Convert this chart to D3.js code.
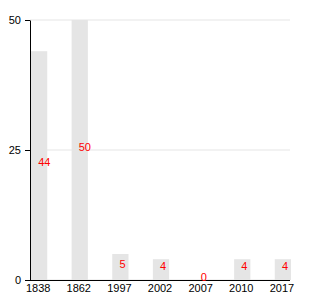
<!DOCTYPE html>
<html>
<head>
<meta charset="utf-8">
<style>
  body { margin: 0; background: #fff; }
  svg { display: block; font-family: "Liberation Sans", Arial, sans-serif; }
  .grid line { stroke: #e5e5e5; }
  .bar { fill: #e5e5e5; }
  .val { fill: #ff0000; font-size: 11px; }
  .axis text { font-size: 11px; fill: #000; }
  .axis path, .axis line { stroke: #000; }
</style>
</head>
<body>
<div id="chart"></div>
<script src="https://d3js.org/d3.v7.min.js"></script>
<script>
const years = ['1838', '1862', '1997', '2002', '2007', '2010', '2017'];
const values = [44, 50, 5, 4, 0, 4, 4];
const yTicks = [0, 25, 50];

const width = 330, height = 300;
const margin = { top: 20, right: 40, bottom: 20, left: 30 };

const svg = d3.select('#chart').append('svg')
  .attr('width', width)
  .attr('height', height);

const x = d3.scaleBand()
  .domain(years)
  .range([margin.left, width - margin.right])
  .paddingInner(0.6)
  .paddingOuter(0);

const y = d3.scaleLinear()
  .domain([0, 50])
  .range([height - margin.bottom, margin.top]);

// gridlines
svg.append('g')
  .attr('class', 'grid')
  .selectAll('line')
  .data(yTicks)
  .enter()
  .append('line')
  .attr('x1', margin.left)
  .attr('x2', width - margin.right)
  .attr('y1', d => y(d))
  .attr('y2', d => y(d));

const data = years.map((yr, i) => ({ year: yr, value: values[i] }));

svg.append('g')
  .selectAll('rect')
  .data(data)
  .enter()
  .append('rect')
  .attr('class', 'bar')
  .attr('x', d => x(d.year) + 1)
  .attr('y', d => y(d.value))
  .attr('width', x.bandwidth())
  .attr('height', d => y(0) - y(d.value));

svg.append('g')
  .attr('class', 'axis')
  .attr('transform', `translate(0,${height - margin.bottom})`)
  .call(d3.axisBottom(x).tickSize(0).tickPadding(4))
  .call(g => g.select('.domain').attr('d', `M${margin.left},0.5H${width - margin.right}`));

svg.append('g')
  .attr('class', 'axis')
  .attr('transform', `translate(${margin.left},0)`)
  .call(d3.axisLeft(y).tickValues(yTicks).tickSize(5).tickSizeOuter(0).tickPadding(4));

svg.append('g')
  .selectAll('text')
  .data(data)
  .enter()
  .append('text')
  .attr('class', 'val')
  .attr('x', d => x(d.year) + x.bandwidth() / 2)
  .attr('y', d => (y(d.value) + y(0)) / 2 + 0.5)
  .attr('text-anchor', 'start')
  .text(d => d.value);
</script>
</body>
</html>
